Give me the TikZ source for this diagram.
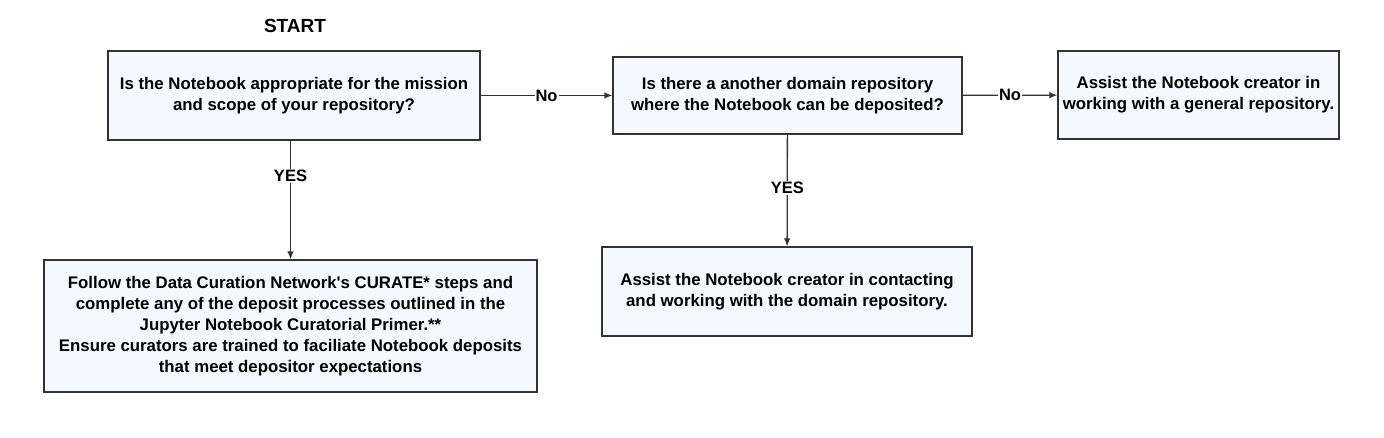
\documentclass[tikz,border=0pt]{standalone}
\usepackage{fontspec}
\setmainfont{Liberation Sans}
\usepackage{tikz}
\usepackage{xcolor}
\usetikzlibrary{arrows.meta, positioning}

\definecolor{boxfill}{RGB}{245,249,253}
\definecolor{boxline}{RGB}{51,51,51}

\tikzset{
    qbox/.style={rectangle, draw=boxline, line width=1.2pt, fill=boxfill, align=center,
        font=\fontsize{16.8}{21}\selectfont\bfseries, inner sep=0pt},
    flow/.style={line width=1.3pt, draw=boxline, -{Latex[length=8pt,width=6.5pt]}},
    lbl/.style={fill=white, inner sep=1pt, font=\fontsize{16.5}{18}\selectfont\bfseries}
}

\begin{document}
\begin{tikzpicture}[x=1pt, y=-1pt]
        \useasboundingbox (0, 0) rectangle (1384, 438);

        \node[font=\fontsize{19}{22}\selectfont\bfseries] (start) at (295, 26) {START};

        \node[qbox, minimum width=372pt, minimum height=89pt] (fit) at (294, 95.5)
            {Is the Notebook appropriate for the mission\\and scope of your repository?};
        \node[qbox, minimum width=349pt, minimum height=77pt] (other) at (787.5, 95.5)
            {Is there a another domain repository\\where the Notebook can be deposited?};
        \node[qbox, minimum width=281pt, minimum height=88pt] (general) at (1198.5, 95)
            {Assist the Notebook creator in\\working with a general repository.};
        \node[qbox, minimum width=493pt, minimum height=132pt] (curate) at (290.5, 326)
            {Follow the Data Curation Network\textquotesingle s CURATE* steps and\\
             complete any of the deposit processes outlined in the\\
             Jupyter Notebook Curatorial Primer.**\\
             Ensure curators are trained to faciliate Notebook deposits\\
             that meet depositor expectations};
        \node[qbox, minimum width=370pt, minimum height=89pt] (domain) at (787, 291.5)
            {Assist the Notebook creator in contacting\\and working with the domain repository.};

        \draw[flow] (fit) to node[lbl] {No} (other);
        \draw[flow] (other) to node[lbl] {No} (general);
        \draw[flow] (fit.south -| curate.north) to node[lbl, pos=0.3] {YES} (curate.north);
        \draw[flow] (other) to node[lbl, pos=0.48] {YES} (domain);
\end{tikzpicture}
\end{document}
